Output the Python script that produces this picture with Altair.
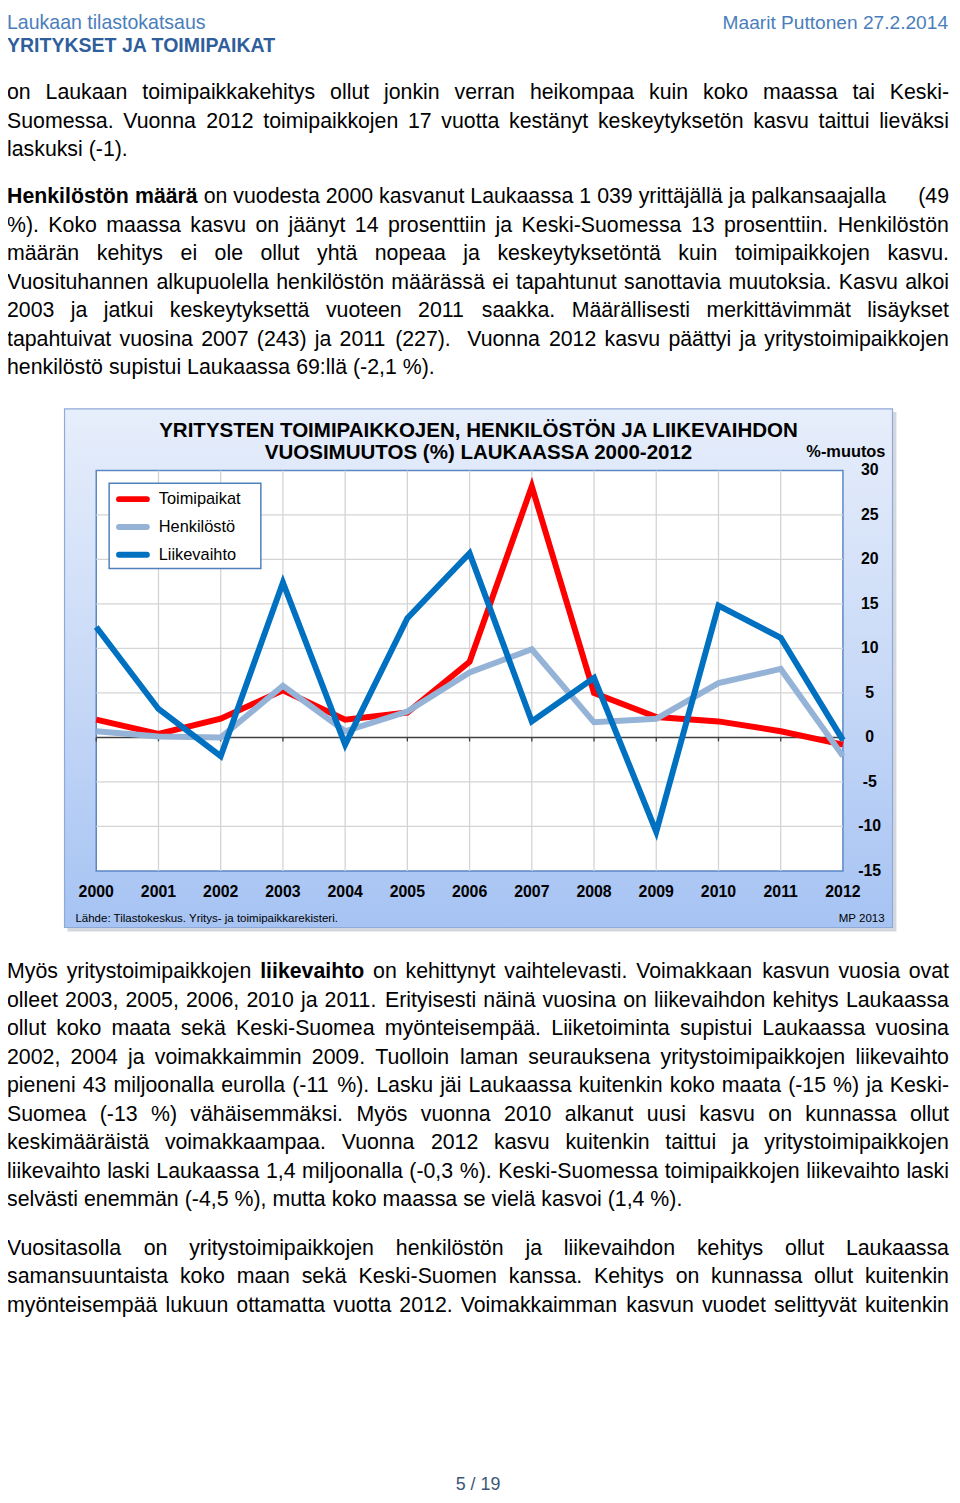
import altair as alt
import pandas as pd

# ---------------- chart data ----------------
years = list(range(2000, 2013))
toimipaikat = [2.0, 0.4, 2.1, 5.3, 2.0, 2.8, 8.5, 28.2, 5.0, 2.3, 1.8, 0.7, -0.8]
henkilosto = [0.7, 0.1, 0.0, 5.8, 0.7, 2.9, 7.3, 9.9, 1.7, 2.1, 6.1, 7.7, -2.1]
liikevaihto = [12.4, 3.2, -2.1, 17.4, -0.8, 13.4, 20.7, 1.8, 6.7, -10.6, 14.8, 11.2, -0.3]
series_names = ["Toimipaikat", "Henkilöstö", "Liikevaihto"]
series_colors = ["#ff0000", "#95b3d7", "#0070c0"]
y_ticks = [30, 25, 20, 15, 10, 5, 0, -5, -10, -15]
grid_years = list(range(2001, 2012))
grid_values = [25, 20, 15, 10, 5, -5, -10]

chart_title = ["YRITYSTEN TOIMIPAIKKOJEN, HENKILÖSTÖN JA LIIKEVAIHDON",
               "VUOSIMUUTOS (%) LAUKAASSA 2000-2012"]
y_title = "%-muutos"
source_text = "Lähde: Tilastokeskus. Yritys- ja toimipaikkarekisteri."
credit_text = "MP 2013"

# ---------------- page text ----------------
header_left = "Laukaan tilastokatsaus"
header_sub = "YRITYKSET JA TOIMIPAIKAT"
header_right = "Maarit Puttonen 27.2.2014"
page_number = "5 / 19"

# (line text, mode) J = justified, L = left, S = split at "|"
para1 = [
    ("on Laukaan toimipaikkakehitys ollut jonkin verran heikompaa kuin koko maassa tai Keski-", "J"),
    ("Suomessa. Vuonna 2012 toimipaikkojen 17 vuotta kestänyt keskeytyksetön kasvu taittui lieväksi", "J"),
    ("laskuksi (-1).", "L"),
]
para2 = [
    ("**Henkilöstön määrä** on vuodesta 2000 kasvanut Laukaassa 1 039 yrittäjällä ja palkansaajalla|(49", "S"),
    ("%). Koko maassa kasvu on jäänyt 14 prosenttiin ja Keski-Suomessa 13 prosenttiin. Henkilöstön", "J"),
    ("määrän kehitys ei ole ollut yhtä nopeaa ja keskeytyksetöntä kuin toimipaikkojen kasvu.", "J"),
    ("Vuosituhannen alkupuolella henkilöstön määrässä ei tapahtunut sanottavia muutoksia. Kasvu alkoi", "J"),
    ("2003 ja jatkui keskeytyksettä vuoteen 2011 saakka. Määrällisesti merkittävimmät lisäykset", "J"),
    ("tapahtuivat vuosina 2007 (243) ja 2011 (227).  Vuonna 2012 kasvu päättyi ja yritystoimipaikkojen", "J"),
    ("henkilöstö supistui Laukaassa 69:llä (-2,1 %).", "L"),
]
para3 = [
    ("Myös yritystoimipaikkojen **liikevaihto** on kehittynyt vaihtelevasti. Voimakkaan kasvun vuosia ovat", "J"),
    ("olleet 2003, 2005, 2006, 2010 ja 2011. Erityisesti näinä vuosina on liikevaihdon kehitys Laukaassa", "J"),
    ("ollut koko maata sekä Keski-Suomea myönteisempää. Liiketoiminta supistui Laukaassa vuosina", "J"),
    ("2002, 2004 ja voimakkaimmin 2009. Tuolloin laman seurauksena yritystoimipaikkojen liikevaihto", "J"),
    ("pieneni 43 miljoonalla eurolla (-11 %). Lasku jäi Laukaassa kuitenkin koko maata (-15 %) ja Keski-", "J"),
    ("Suomea (-13 %) vähäisemmäksi. Myös vuonna 2010 alkanut uusi kasvu on kunnassa ollut", "J"),
    ("keskimääräistä voimakkaampaa. Vuonna 2012 kasvu kuitenkin taittui ja yritystoimipaikkojen", "J"),
    ("liikevaihto laski Laukaassa 1,4 miljoonalla (-0,3 %). Keski-Suomessa toimipaikkojen liikevaihto laski", "J"),
    ("selvästi enemmän (-4,5 %), mutta koko maassa se vielä kasvoi (1,4 %).", "L"),
]
para4 = [
    ("Vuositasolla on yritystoimipaikkojen henkilöstön ja liikevaihdon kehitys ollut Laukaassa", "J"),
    ("samansuuntaista koko maan sekä Keski-Suomen kanssa. Kehitys on kunnassa ollut kuitenkin", "J"),
    ("myönteisempää lukuun ottamatta vuotta 2012. Voimakkaimman kasvun vuodet selittyvät kuitenkin", "J"),
]
para_top = [78, 183, 964.5, 1243.5]   # centre of first line (chart px)
LINE_STEP = 28.75

# ---------------- layout helpers ----------------
W, H = 952, 1487
BODY_FONT = "Liberation Sans, Arial, sans-serif"
BODY_SIZE = 21.5
TEXT_L, TEXT_R = -1, 949

REG = dict(zip("abcdefghijklmnopqrstuvwxyz",
               [556, 556, 500, 556, 556, 278, 556, 556, 222, 222, 500, 222, 833,
                556, 556, 556, 556, 333, 500, 278, 556, 500, 722, 500, 500, 500]))
REG.update(dict(zip("ABCDEFGHIJKLMNOPQRSTUVWXYZ",
                    [667, 667, 722, 722, 667, 611, 778, 722, 278, 500, 667, 556, 833,
                     722, 778, 667, 778, 722, 667, 611, 722, 667, 944, 667, 667, 611])))
REG.update({c: 556 for c in "0123456789"})
REG.update({" ": 278, ".": 278, ",": 278, ":": 278, ";": 278, "-": 333, "(": 333,
            ")": 333, "%": 889, "ä": 556, "ö": 556, "å": 556, "Ä": 667, "Ö": 778})
BOLD = dict(zip("abcdefghijklmnopqrstuvwxyz",
                [556, 611, 556, 611, 556, 333, 611, 611, 278, 278, 556, 278, 889,
                 611, 611, 611, 611, 389, 556, 333, 611, 556, 778, 556, 556, 500]))
BOLD.update(dict(zip("ABCDEFGHIJKLMNOPQRSTUVWXYZ",
                     [722, 722, 722, 722, 667, 611, 778, 722, 278, 556, 722, 611, 833,
                      722, 778, 667, 778, 722, 667, 611, 722, 667, 944, 667, 667, 611])))
BOLD.update({c: 556 for c in "0123456789"})
BOLD.update({" ": 278, ".": 278, ",": 278, ":": 333, ";": 333, "-": 333, "(": 333,
             ")": 333, "%": 889, "ä": 556, "ö": 611, "å": 556, "Ä": 722, "Ö": 778})


def wlen(word, bold):
    tab = BOLD if bold else REG
    return sum(tab.get(ch, 556) for ch in word) * BODY_SIZE / 1000.0


def parse(text):
    out, bold = [], False
    for tok in text.split(" "):
        b = bold
        if tok.startswith("**"):
            tok, b, bold = tok[2:], True, True
        if tok.endswith("**"):
            tok, bold = tok[:-2], False
        out.append((tok, b, wlen(tok, b)))
    return out


def place(words, start, gap):
    rows, x = [], start
    for t, b, w in words:
        if t:
            rows.append((x, t, b))
        x += w + gap
    return rows


SPACE = 278 * BODY_SIZE / 1000.0
rows = []
for para, top in zip([para1, para2, para3, para4], para_top):
    for i, (line, mode) in enumerate(para):
        base = top + i * LINE_STEP + 7.5
        if mode == "S":
            left, right = line.split("|")
            placed = place(parse(left), TEXT_L, SPACE)
            rw = parse(right)
            tot = sum(w for _, _, w in rw) + SPACE * (len(rw) - 1)
            placed += place(rw, TEXT_R - tot, SPACE)
        else:
            words = parse(line)
            if mode == "J" and len(words) > 1:
                gap = (TEXT_R - TEXT_L - sum(w for _, _, w in words)) / (len(words) - 1)
            else:
                gap = SPACE
            placed = place(words, TEXT_L, gap)
        for x, t, b in placed:
            rows.append({"x": x, "y": base, "t": t, "bold": b})
words_df = pd.DataFrame(rows)

series_df = pd.DataFrame({
    "year": years * 3,
    "value": toimipaikat + henkilosto + liikevaihto,
    "series": [series_names[0]] * 13 + [series_names[1]] * 13 + [series_names[2]] * 13,
})
legend_df = pd.DataFrame({"series": series_names, "row": [0, 1, 2]})
one = pd.DataFrame({"k": [0]})

# ---------------- scales ----------------
XS = alt.Scale(domain=[2000, 2012], range=[89, 842], nice=False, zero=False)
YS = alt.Scale(domain=[-15, 30], range=[864, 460], nice=False, zero=False)
PX = alt.Scale(domain=[0, W], range=[0, W], nice=False, zero=False)
PY = alt.Scale(domain=[0, H], range=[0, H], nice=False, zero=False)
LEG_Y = alt.Scale(domain=[0, 2], range=[489, 545], nice=False, zero=False)
CS = alt.Scale(domain=series_names, range=series_colors)

layers = []

# chart frame (shadow + gradient box)
layers.append(alt.Chart(one).mark_rect(color="#d4d8de").encode(
    x=alt.value(60), x2=alt.value(896), y=alt.value(401), y2=alt.value(925)))
layers.append(alt.Chart(one).mark_rect(
    fill={"gradient": "linear", "x1": 0, "x2": 0, "y1": 0, "y2": 1,
          "stops": [{"offset": 0, "color": "#e7eefb"},
                    {"offset": 0.5, "color": "#c9daf7"},
                    {"offset": 1, "color": "#a6c3f3"}]},
    stroke="#8eaad8", strokeWidth=1.2).encode(
    x=alt.value(57), x2=alt.value(892), y=alt.value(398), y2=alt.value(921)))
# plot area
layers.append(alt.Chart(one).mark_rect(fill="#ffffff", stroke="#5b87c5", strokeWidth=1.5).encode(
    x=alt.value(89), x2=alt.value(842), y=alt.value(460), y2=alt.value(864)))

# gridlines
layers.append(alt.Chart(pd.DataFrame({"year": grid_years})).mark_rule(
    color="#d4d4d4", strokeWidth=1.3).encode(
    x=alt.X("year:Q", scale=XS, axis=None), y=alt.value(460), y2=alt.value(864)))
layers.append(alt.Chart(pd.DataFrame({"v": grid_values})).mark_rule(
    color="#d4d4d4", strokeWidth=1.3).encode(
    y=alt.Y("v:Q", scale=YS, axis=None), x=alt.value(89), x2=alt.value(842)))
# zero line and its ticks
layers.append(alt.Chart(pd.DataFrame({"v": [0]})).mark_rule(
    color="#404040", strokeWidth=1.5).encode(
    y=alt.Y("v:Q", scale=YS, axis=None), x=alt.value(89), x2=alt.value(842)))
layers.append(alt.Chart(pd.DataFrame({"year": years, "v": [0] * 13})).mark_rule(
    color="#404040", strokeWidth=1.3, y2Offset=4).encode(
    x=alt.X("year:Q", scale=XS, axis=None),
    y=alt.Y("v:Q", scale=YS, axis=None), y2="v:Q"))

# data lines (drawn in series order, last on top)
for name, col in zip(series_names, series_colors):
    layers.append(alt.Chart(series_df).transform_filter(
        alt.datum.series == name).mark_line(
        color=col, strokeWidth=6, strokeJoin="miter", strokeCap="butt").encode(
        x=alt.X("year:Q", scale=XS, axis=None),
        y=alt.Y("value:Q", scale=YS, axis=None)))

# legend
layers.append(alt.Chart(one).mark_rect(fill="#ffffff", stroke="#4f81bd", strokeWidth=1.5).encode(
    x=alt.value(102), x2=alt.value(255), y=alt.value(473), y2=alt.value(559)))
layers.append(alt.Chart(legend_df).mark_rule(strokeWidth=6, strokeCap="round").encode(
    y=alt.Y("row:Q", scale=LEG_Y, axis=None), x=alt.value(112), x2=alt.value(140),
    color=alt.Color("series:N", scale=CS, legend=None)))
layers.append(alt.Chart(legend_df).mark_text(
    align="left", baseline="middle", font="Liberation Sans, Arial", fontSize=16.5,
    color="#000000").encode(
    y=alt.Y("row:Q", scale=LEG_Y, axis=None), x=alt.value(152), text="series:N"))

# axis labels
layers.append(alt.Chart(pd.DataFrame({"year": years})).mark_text(
    align="center", baseline="middle", font="Liberation Sans, Arial", fontSize=16,
    fontWeight="bold", color="#000000").encode(
    x=alt.X("year:Q", scale=XS, axis=None), y=alt.value(885), text="year:N"))
layers.append(alt.Chart(pd.DataFrame({"v": y_ticks})).mark_text(
    align="center", baseline="middle", font="Liberation Sans, Arial", fontSize=16,
    fontWeight="bold", color="#000000").encode(
    y=alt.Y("v:Q", scale=YS, axis=None), x=alt.value(869), text="v:N"))
layers.append(alt.Chart(one).mark_text(
    align="center", baseline="middle", font="Liberation Sans, Arial", fontSize=16.5,
    fontWeight="bold", color="#000000").encode(
    x=alt.value(845), y=alt.value(441), text=alt.value(y_title)))

# chart title
for i, line in enumerate(chart_title):
    layers.append(alt.Chart(one).mark_text(
        align="center", baseline="middle", font="Liberation Sans, Arial", fontSize=20.7,
        fontWeight="bold", color="#000000").encode(
        x=alt.value(474.5), y=alt.value(420 + 23 * i), text=alt.value(line)))

# source and credit
layers.append(alt.Chart(one).mark_text(
    align="left", baseline="middle", font="Liberation Sans, Arial", fontSize=11.6,
    color="#000000").encode(x=alt.value(68), y=alt.value(912), text=alt.value(source_text)))
layers.append(alt.Chart(one).mark_text(
    align="right", baseline="middle", font="Liberation Sans, Arial", fontSize=11.6,
    color="#000000").encode(x=alt.value(884), y=alt.value(912), text=alt.value(credit_text)))

# page header
HFONT = "Liberation Sans, Arial"
layers.append(alt.Chart(one).mark_text(
    align="left", baseline="alphabetic", font=HFONT, fontSize=19.7, color="#4a7ebb").encode(
    x=alt.value(-1), y=alt.value(15), text=alt.value(header_left)))
layers.append(alt.Chart(one).mark_text(
    align="right", baseline="alphabetic", font=HFONT, fontSize=19.3, color="#4a7ebb").encode(
    x=alt.value(948), y=alt.value(15), text=alt.value(header_right)))
layers.append(alt.Chart(one).mark_text(
    align="left", baseline="alphabetic", font=HFONT, fontSize=19.7, fontWeight="bold",
    color="#2f5e9c").encode(
    x=alt.value(-1), y=alt.value(38), text=alt.value(header_sub)))

# body text
layers.append(alt.Chart(words_df[~words_df["bold"]]).mark_text(
    align="left", baseline="alphabetic", font=BODY_FONT, fontSize=BODY_SIZE,
    color="#000000").encode(
    x=alt.X("x:Q", scale=PX, axis=None), y=alt.Y("y:Q", scale=PY, axis=None), text="t:N"))
layers.append(alt.Chart(words_df[words_df["bold"]]).mark_text(
    align="left", baseline="alphabetic", font=BODY_FONT, fontSize=BODY_SIZE,
    fontWeight="bold", color="#000000").encode(
    x=alt.X("x:Q", scale=PX, axis=None), y=alt.Y("y:Q", scale=PY, axis=None), text="t:N"))

# page number
layers.append(alt.Chart(one).mark_text(
    align="center", baseline="middle", font=BODY_FONT, fontSize=18, color="#3b5878").encode(
    x=alt.value(474), y=alt.value(1483), text=alt.value(page_number)))

chart = alt.layer(*layers).resolve_scale(
    x="independent", y="independent", color="independent"
).properties(
    width=W, height=H, padding=0, autosize=alt.AutoSizeParams(type="none")
).configure(background="#ffffff").configure_view(stroke=None, strokeWidth=0)

chart.save("out.html", embed_options={"renderer": "svg", "actions": False})
